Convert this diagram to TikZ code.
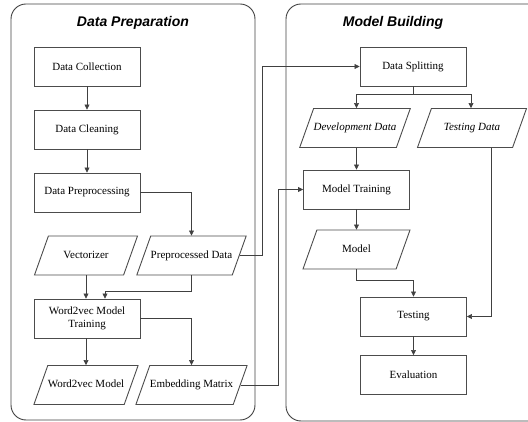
\documentclass[tikz,border=0pt]{standalone}
\usepackage{fontspec}
\setmainfont{Liberation Serif}
\newfontfamily\titlefont{Liberation Sans}
\usepackage{tikz}
\usetikzlibrary{arrows.meta, shapes.geometric, positioning}

\tikzset{
    process/.style={draw=black!70, line width=0.9pt, fill=white, minimum width=106pt, minimum height=39pt, align=center, font=\fontsize{11}{13}\selectfont},
    dataio/.style={trapezium, trapezium left angle=51, trapezium right angle=129, trapezium stretches body, draw=black!70, line width=0.9pt, fill=white, minimum width=103pt, minimum height=39pt, inner xsep=0pt, text height=8pt, text depth=2.5pt, font=\fontsize{11}{13}\selectfont},
    group/.style={draw=black!75, line width=0.9pt, rounded corners=15pt},
    grouptitle/.style={font=\titlefont\fontsize{14}{16}\selectfont\bfseries\itshape},
    flow/.style={draw=black!75, line width=0.7pt, -{Triangle[width=5pt,length=5pt]}}
}

\begin{document}
\begin{tikzpicture}[x=1pt, y=1pt]
    \useasboundingbox (0,0) rectangle (528,-422);
    \clip (0,0) rectangle (528,-422);

    % Draw the two groups
    \draw[group] (11,-4) rectangle (255,-420);
    \draw[group] (286,-4) rectangle (548,-421);
    \node[grouptitle] (preptitle) at (133,-23) {Data Preparation};
    \node[grouptitle] (buildtitle) at (393,-23) {Model Building};

    % Data preparation steps
    \node[process] (collect) at (87,-66.5) {Data Collection};
    \node[process] (clean) at (87,-129.5) {Data Cleaning};
    \node[process] (preproc) at (87,-192.5) {Data Preprocessing};
    \node[dataio] (vector) at (86,-255.5) {Vectorizer};
    \node[dataio] (ppdata) at (191.5,-255.5) {Preprocessed Data};
    \node[process] (w2vtrain) at (87,-318.5) {Word2vec Model\\Training};
    \node[dataio] (w2vmodel) at (86,-385) {Word2vec Model};
    \node[dataio] (embed) at (191.5,-385) {Embedding Matrix};

    % Model building steps
    \node[process] (split) at (413,-66.5) {Data Splitting};
    \node[dataio, minimum width=100pt] (devdata) at (355,-128) {\itshape Development Data};
    \node[dataio, minimum width=109pt] (testdata) at (472,-128) {\itshape Testing Data};
    \node[process] (mtrain) at (356.5,-189.5) {Model Training};
    \node[dataio, minimum width=107pt] (model) at (356.5,-249.5) {Model};
    \node[process] (testing) at (413.5,-316.5) {Testing};
    \node[process] (evaluate) at (413.5,-375) {Evaluation};

    % Connectors on the left
    \draw[flow] (collect) -- (clean);
    \draw[flow] (clean) -- (preproc);
    \draw[flow] (preproc.east) -| (ppdata.north);
    \draw[flow] (vector.south) -- (vector.south |- w2vtrain.north);
    \draw[flow] (ppdata.south) -- ++(0,-16) -| ([xshift=18pt]w2vtrain.north);
    \draw[flow] (w2vtrain.east) -| (embed.north);
    \draw[flow] (w2vtrain.south -| w2vmodel.south) -- (w2vmodel.south |- w2vmodel.north);

    % Connectors into model building
    \draw[flow] (ppdata.east) -| ([xshift=-97pt]split.west) -- (split.west);
    \draw[flow] (embed.east) -| ([xshift=-25pt]mtrain.west) -- (mtrain.west);

    % Connectors on the right
    \draw[flow] (split.south) -- ++(0,-8) -| (mtrain.north |- devdata.north);
    \draw[flow] (split.south) -- ++(0,-8) -| ([xshift=-1pt]testdata.north);
    \draw[flow] (mtrain.north |- devdata.south) -- (mtrain.north);
    \draw[flow] (mtrain) -- (model);
    \draw[flow] (model.south) -- ++(0,-11) -| (testing.north);
    \draw[flow] ([xshift=19pt]testdata.south) |- (testing.east);
    \draw[flow] (testing) -- (evaluate);
\end{tikzpicture}
\end{document}
